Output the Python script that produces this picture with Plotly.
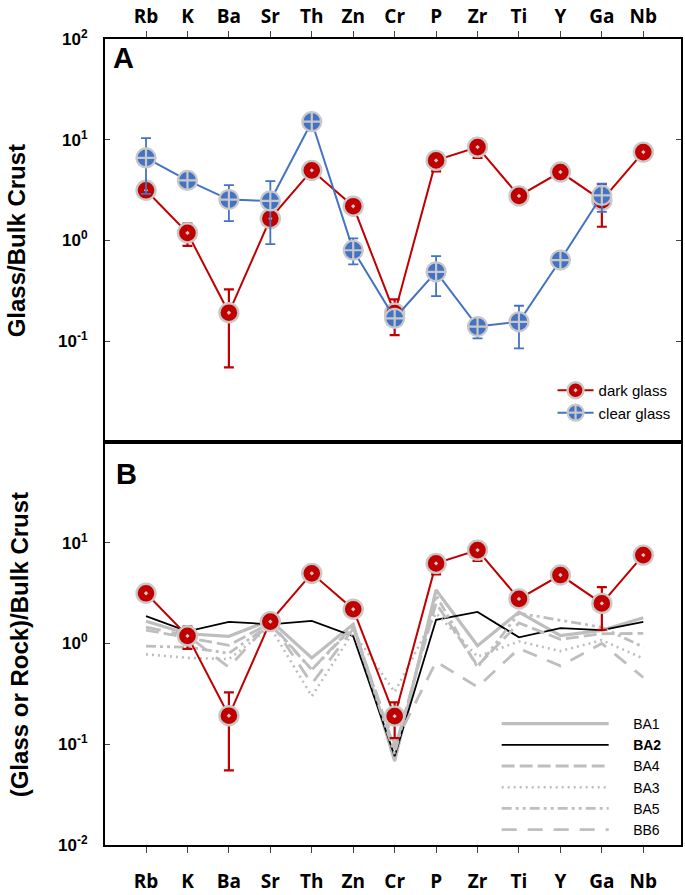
import plotly.graph_objects as go

# ---------------- data ----------------
elements = ["Rb", "K", "Ba", "Sr", "Th", "Zn", "Cr", "P", "Zr", "Ti", "Y", "Ga", "Nb"]

dark_glass = [3.15, 1.19, 0.192, 1.65, 4.97, 2.19, 0.19, 6.24, 8.45, 2.77, 4.78, 2.5, 7.54]
dark_hi = [3.4, 1.47, 0.327, 1.8, 5.3, 2.55, 0.26, 7.36, 10.2, 3.0, 5.1, 3.63, 8.0]
dark_lo = [2.9, 0.885, 0.055, 1.5, 4.6, 1.85, 0.115, 4.85, 6.6, 2.55, 4.5, 1.37, 7.1]

clear_elements = ["Rb", "K", "Ba", "Sr", "Th", "Zn", "Cr", "P", "Zr", "Ti", "Y", "Ga"]
clear_glass = [6.6, 3.95, 2.55, 2.47, 15.1, 0.80, 0.169, 0.489, 0.14, 0.156, 0.64, 2.8]
clear_hi = [10.4, 4.3, 3.55, 3.89, 16.5, 1.05, 0.2, 0.70, 0.16, 0.225, 0.7, 3.66]
clear_lo = [2.9, 3.6, 1.56, 0.92, 13.8, 0.58, 0.145, 0.28, 0.107, 0.085, 0.58, 1.92]

rock_names = ["BA1", "BA2", "BA4", "BA3", "BA5", "BB6"]
BA1 = [1.66, 1.25, 1.18, 1.70, 0.72, 1.55, 0.068, 3.4, 0.95, 2.05, 1.2, 1.35, 1.8]
BA2 = [1.87, 1.32, 1.64, 1.55, 1.68, 1.18, 0.076, 1.72, 2.06, 1.15, 1.42, 1.36, 1.64]
BA4 = [1.36, 1.15, 0.96, 1.6, 0.55, 1.5, 0.09, 2.5, 0.6, 1.6, 1.1, 1.25, 1.26]
BA3 = [0.78, 0.72, 0.70, 1.45, 0.30, 1.3, 0.33, 2.0, 0.74, 1.05, 0.84, 1.08, 0.71]
BA5 = [0.94, 0.92, 0.80, 1.55, 0.55, 1.45, 0.08, 3.0, 0.58, 2.0, 1.7, 1.45, 0.92]
BB6 = [1.45, 1.2, 0.58, 1.65, 0.40, 1.4, 0.10, 0.66, 0.37, 0.89, 0.6, 1.0, 0.46]
rock_values = [BA1, BA2, BA4, BA3, BA5, BB6]

ytick_vals_a = [100, 10, 1, 0.1]
ytick_text_a = ["10<sup>2</sup>", "10<sup>1</sup>", "10<sup>0</sup>", "10<sup>-1</sup>"]
ytick_vals_b = [10, 1, 0.1, 0.01]
ytick_text_b = ["10<sup>1</sup>", "10<sup>0</sup>", "10<sup>-1</sup>", "10<sup>-2</sup>"]

# ---------------- styles ----------------
RED = "#C00000"
BLUE = "#4472C4"
RIM = "#C8C8C8"
GREY = "#BEBEBE"
rock_styles = {
    "BA1": dict(color=GREY, width=3.2, dash="solid"),
    "BA2": dict(color="black", width=1.8, dash="solid"),
    "BA4": dict(color=GREY, width=2.8, dash="13px,5px"),
    "BA3": dict(color=GREY, width=2.6, dash="2px,4px"),
    "BA5": dict(color=GREY, width=2.8, dash="10px,4px,3px,4px,3px,4px"),
    "BB6": dict(color=GREY, width=2.8, dash="15px,11px"),
}

FONT = "Liberation Sans, Arial, sans-serif"
PAD = "\u00a0" * 5  # gap between legend line sample and label

fig = go.Figure()

def err(vals, hi, lo):
    return [h - v for v, h in zip(vals, hi)], [v - l for v, l in zip(vals, lo)]

dp, dm = err(dark_glass, dark_hi, dark_lo)
cp, cm = err(clear_glass, clear_hi, clear_lo)

# Panel A
fig.add_trace(go.Scatter(
    x=elements, y=dark_glass, name="dark glass", mode="lines+markers",
    xaxis="x", yaxis="y", legend="legend",
    line=dict(color=RED, width=2),
    marker=dict(symbol="circle-dot", size=19, color=RED, line=dict(color=RIM, width=2.4)),
    error_y=dict(type="data", symmetric=False, array=dp, arrayminus=dm,
                 color=RED, thickness=2.2, width=5),
))
fig.add_trace(go.Scatter(
    x=clear_elements, y=clear_glass, name="clear glass", mode="lines+markers",
    xaxis="x", yaxis="y", legend="legend",
    line=dict(color=BLUE, width=2),
    marker=dict(symbol="circle-cross", size=19, color=BLUE, line=dict(color=RIM, width=2.2)),
    error_y=dict(type="data", symmetric=False, array=cp, arrayminus=cm,
                 color=BLUE, thickness=1.8, width=5),
))

# Panel B
for name, vals in zip(rock_names, rock_values):
    st = rock_styles[name]
    label = PAD + ("<b>" + name + "</b>" if name == "BA2" else name)
    fig.add_trace(go.Scatter(
        x=elements, y=vals, name=label, mode="lines",
        xaxis="x2", yaxis="y2", legend="legend2",
        line=dict(color=st["color"], width=st["width"], dash=st["dash"]),
    ))
fig.add_trace(go.Scatter(
    x=elements, y=dark_glass, name="dark glass", mode="lines+markers",
    xaxis="x2", yaxis="y2", showlegend=False,
    line=dict(color=RED, width=2),
    marker=dict(symbol="circle-dot", size=19, color=RED, line=dict(color=RIM, width=2.4)),
    error_y=dict(type="data", symmetric=False, array=dp, arrayminus=dm,
                 color=RED, thickness=2.2, width=5),
))

xcommon = dict(type="category", categoryorder="array", categoryarray=elements,
               range=[-0.99, 12.91], showgrid=False, zeroline=False, automargin=False,
               showline=True, linecolor="black", linewidth=2, mirror=True,
               ticks="outside", ticklen=6, tickwidth=1, tickcolor="#444",
               tickfont=dict(family="Open Sans, sans-serif", size=19, color="black", weight="bold"))
ycommon = dict(type="log", range=[-2, 2], showgrid=False, zeroline=False, automargin=False,
               showline=True, linecolor="black", linewidth=2,
               ticks="inside", ticklen=5, tickwidth=1, tickcolor="#444",
               ticklabelstandoff=12,
               tickfont=dict(family=FONT, size=17, color="black", weight="bold"))

fig.update_layout(
    width=685, height=895,
    margin=dict(l=105, r=4, t=39, b=50, autoexpand=False),
    paper_bgcolor="white", plot_bgcolor="white",
    font=dict(family=FONT, color="black"),
    xaxis=dict(xcommon, anchor="y", side="top", domain=[0, 1], ticklabelstandoff=0),
    yaxis=dict(ycommon, domain=[0.5, 1], tickvals=ytick_vals_a, ticktext=ytick_text_a, mirror="ticks"),
    xaxis2=dict(xcommon, anchor="y2", side="bottom", domain=[0, 1], ticklabelstandoff=12),
    yaxis2=dict(ycommon, domain=[0, 0.5], tickvals=ytick_vals_b, ticktext=ytick_text_b, mirror=True),
    legend=dict(x=0.777, y=0.5844, xanchor="left", yanchor="top", bgcolor="rgba(0,0,0,0)",
                font=dict(family=FONT, size=15, color="black"), itemwidth=36),
    legend2=dict(x=0.680, y=0.170, xanchor="left", yanchor="top", bgcolor="rgba(0,0,0,0)",
                 font=dict(family=FONT, size=14, color="black"), itemwidth=107),
    annotations=[
        dict(text="<b>A</b>", x=0.011, y=0.999, xref="paper", yref="paper",
             xanchor="left", yanchor="top", showarrow=False, font=dict(size=29, family=FONT)),
        dict(text="<b>B</b>", x=0.015, y=0.4825, xref="paper", yref="paper",
             xanchor="left", yanchor="top", showarrow=False, font=dict(size=29, family=FONT)),
        dict(text="<b>Glass/Bulk Crust</b>", x=-0.1545, y=0.749, xref="paper", yref="paper",
             xanchor="center", yanchor="middle",
             textangle=-90, showarrow=False, font=dict(size=24, family=FONT)),
        dict(text="<b>(Glass or Rock)/Bulk Crust</b>", x=-0.149, y=0.248, xref="paper", yref="paper",
             xanchor="center", yanchor="middle",
             textangle=-90, showarrow=False, font=dict(size=24, family=FONT)),
    ],
)

# remove the browser's default 8px body margin so the figure fills the window exactly
fig.write_html("out.html", config={"displayModeBar": False},
               post_script="document.body.style.margin='0';")
